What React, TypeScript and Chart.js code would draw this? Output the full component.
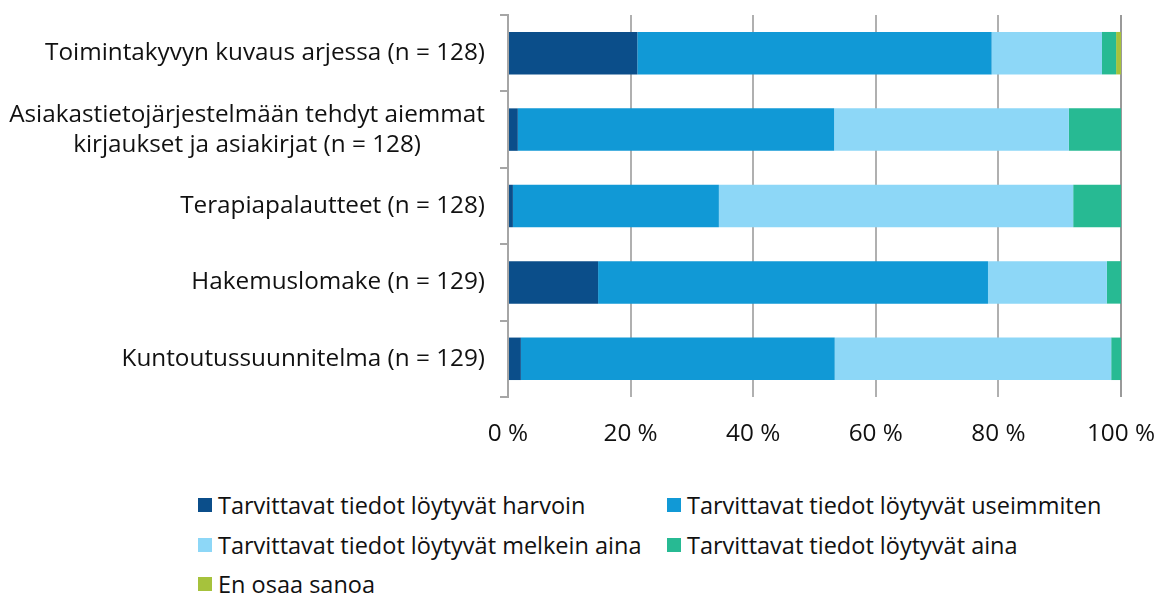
import React, { useEffect, useRef } from "react";
import { Chart, registerables } from "chart.js";

Chart.register(...registerables);

const categories: (string | string[])[] = [
  "Toimintakyvyn kuvaus arjessa (n = 128)",
  ["Asiakastietojärjestelmään tehdyt aiemmat", "kirjaukset ja asiakirjat (n = 128)"],
  "Terapiapalautteet (n = 128)",
  "Hakemuslomake (n = 129)",
  "Kuntoutussuunnitelma (n = 129)",
];

const seriesNames = [
  "Tarvittavat tiedot löytyvät harvoin",
  "Tarvittavat tiedot löytyvät useimmiten",
  "Tarvittavat tiedot löytyvät melkein aina",
  "Tarvittavat tiedot löytyvät aina",
  "En osaa sanoa",
];

const harvoin = [21.1, 1.6, 0.8, 14.7, 2.1];
const useimmiten = [57.8, 51.6, 33.6, 63.6, 51.2];
const melkeinAina = [18.0, 38.3, 57.8, 19.4, 45.1];
const aina = [2.3, 8.5, 7.8, 2.3, 1.6];
const enOsaa = [0.8, 0, 0, 0, 0];

const xTicks = [0, 20, 40, 60, 80, 100];

const colors = ["#0B4E8A", "#1199D6", "#8DD7F7", "#27BA93", "#A6C23C"];

const FONT = "'Open Sans', 'Liberation Sans', Arial, sans-serif";
const FONT_SIZE = 24.3;

const yLabelPlugin = {
  id: "yLabels",
  afterDraw(chart: any) {
    const ctx = chart.ctx;
    const yScale = chart.scales.y;
    const rightX = chart.chartArea.left - 23;
    ctx.save();
    ctx.font = `${FONT_SIZE}px ${FONT}`;
    ctx.fillStyle = "#111111";
    ctx.textAlign = "center";
    ctx.textBaseline = "middle";
    const lineH = 30;
    (chart.data.labels as (string | string[])[]).forEach((lab, i) => {
      const lines = Array.isArray(lab) ? lab : [lab];
      const maxW = Math.max(...lines.map((l) => ctx.measureText(l).width));
      const cx = rightX - maxW / 2;
      const cy = yScale.getPixelForTick(i);
      const startY = cy - ((lines.length - 1) * lineH) / 2;
      lines.forEach((l, j) => ctx.fillText(l, cx, startY + j * lineH));
    });
    ctx.restore();
  },
};

export default function App() {
  const ref = useRef<HTMLCanvasElement>(null);
  useEffect(() => {
    if (!ref.current) return;
    const seriesData = [harvoin, useimmiten, melkeinAina, aina, enOsaa];
    const chart = new Chart(ref.current, {
      type: "bar",
      data: {
        labels: categories as any,
        datasets: seriesData.map((d, i) => ({
          label: seriesNames[i],
          data: d,
          backgroundColor: colors[i],
          borderWidth: 0,
          barPercentage: 0.556,
          categoryPercentage: 1,
        })),
      },
      options: {
        indexAxis: "y",
        animation: false,
        responsive: false,
        maintainAspectRatio: false,
        layout: { padding: { left: 500, right: 45, top: 15, bottom: 0 } },
        plugins: {
          legend: { display: false },
          tooltip: { enabled: false },
        },
        scales: {
          x: {
            stacked: true,
            min: 0,
            max: 100,
            afterBuildTicks: (scale: any) => {
              scale.ticks = xTicks.map((v) => ({ value: v }));
            },
            afterFit: (scale: any) => {
              scale.height = 63;
              scale.paddingLeft = 0;
              scale.paddingRight = 0;
            },
            border: { display: false },
            grid: {
              drawTicks: false,
              lineWidth: 2,
              color: (c: any) => (c.tick && c.tick.value === 100 ? "#9A9A9A" : "#B0B0B0"),
            },
            ticks: {
              padding: 22,
              color: "#111111",
              font: { family: FONT, size: FONT_SIZE },
              callback: (v: any) => `${v} %`,
              maxRotation: 0,
            },
          },
          y: {
            stacked: true,
            afterFit: (scale: any) => {
              scale.width = 8;
              scale.paddingTop = 0;
              scale.paddingBottom = 0;
            },
            border: { display: true, color: "#A6A6A6", width: 2 },
            grid: {
              offset: true,
              drawOnChartArea: false,
              drawTicks: true,
              tickLength: 8,
              lineWidth: 2,
              color: "#A6A6A6",
            },
            ticks: { display: false },
          },
        },
      },
      plugins: [yLabelPlugin],
    });
    return () => chart.destroy();
  }, []);

  const legendPos = [
    { left: 198, top: 505 },
    { left: 667, top: 505 },
    { left: 198, top: 545 },
    { left: 667, top: 545 },
    { left: 198, top: 584 },
  ];

  return (
    <div style={{ position: "absolute", left: 0, top: 0, width: 1166, height: 594, background: "#fff", overflow: "hidden" }}>
      <canvas ref={ref} width={1166} height={460} style={{ position: "absolute", left: 0, top: 0, width: 1166, height: 460 }} />
      {seriesNames.map((name, i) => (
        <div
          key={name}
          style={{
            position: "absolute",
            left: legendPos[i].left,
            top: legendPos[i].top - 15,
            height: 30,
            display: "flex",
            alignItems: "center",
            whiteSpace: "nowrap",
            fontFamily: FONT,
            fontSize: 23.5,
            lineHeight: "30px",
            color: "#111111",
          }}
        >
          <span style={{ display: "inline-block", width: 14, height: 14, background: colors[i], marginRight: 6 }} />
          <span>{name}</span>
        </div>
      ))}
    </div>
  );
}
